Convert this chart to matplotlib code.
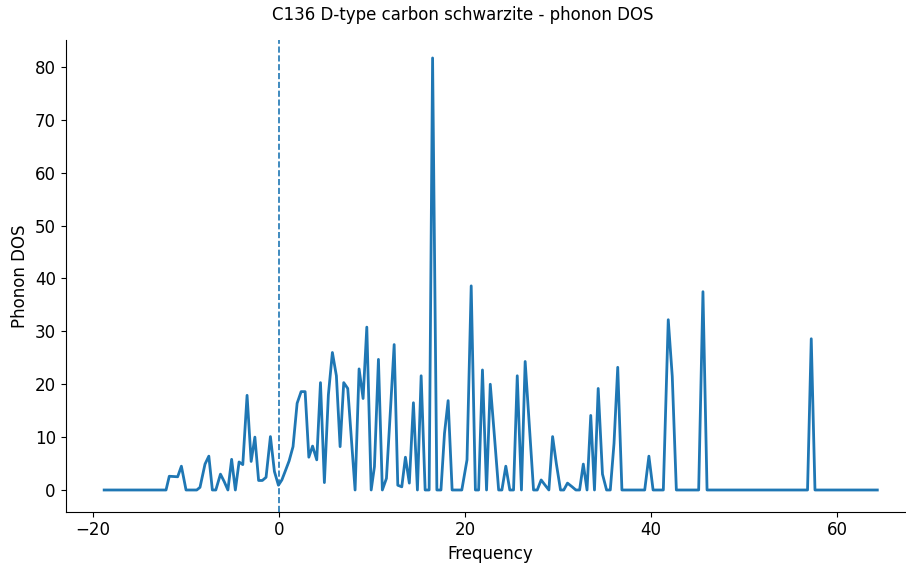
import matplotlib
matplotlib.use("Agg")
import matplotlib.pyplot as plt

# phonon DOS vertices (frequency, dos)
freq = [-18.8, -12.15, -11.8, -10.9, -10.5, -10.0, -8.85, -8.5, -7.96, -7.55,
        -7.17, -6.8, -6.3, -5.9, -5.5, -5.1, -4.7, -4.3, -3.9, -3.44,
        -3.0, -2.6, -2.2, -1.8, -1.4, -0.93, -0.5, -0.07, 0.3, 0.65,
        1.08, 1.5, 1.94, 2.37, 2.8, 3.2, 3.6, 4.05, 4.45, 4.87,
        5.3, 5.73, 6.16, 6.56, 6.95, 7.38, 8.17, 8.6, 9.03, 9.43,
        9.9, 10.25, 10.68, 11.1, 11.54, 11.97, 12.37, 12.76, 13.19, 13.58,
        14.0, 14.44, 14.87, 15.27, 15.7, 16.13, 16.5, 16.96, 17.4, 17.78,
        18.17, 18.6, 19.64, 20.2, 20.65, 21.1, 21.45, 21.86, 22.3, 22.7,
        23.15, 23.6, 23.95, 24.37, 24.8, 25.2, 25.6, 26.05, 26.45, 27.35,
        27.75, 28.17, 28.6, 29.0, 29.4, 29.8, 30.25, 30.6, 31.0, 31.5,
        31.9, 32.3, 32.7, 33.1, 33.5, 33.9, 34.3, 34.76, 35.2, 35.6,
        36.0, 36.4, 36.85, 39.3, 39.75, 40.2, 41.3, 41.83, 42.26, 42.7,
        45.1, 45.56, 46.0, 56.8, 57.2, 57.6, 64.3]
dos = [0, 0, 2.6, 2.5, 4.5, 0, 0, 0.5, 4.9, 6.4,
       0, 0, 3.0, 1.6, 0, 5.8, 0, 5.3, 4.8, 17.9,
       5.4, 10.0, 1.8, 1.8, 2.4, 10.1, 3.5, 0.9, 1.9, 3.5,
       5.5, 8.2, 16.4, 18.6, 18.6, 6.2, 8.3, 5.7, 20.3, 1.4,
       18.0, 26.0, 21.6, 8.2, 20.3, 19.2, 0, 22.9, 17.3, 30.8,
       0, 4.4, 24.7, 0, 2.2, 15.1, 27.5, 0.9, 0.6, 6.2,
       1.3, 16.5, 0, 21.6, 0, 0, 81.7, 0, 0, 10.7,
       16.9, 0, 0, 5.7, 38.6, 0, 0, 22.7, 0, 20.0,
       10.1, 0, 0, 4.5, 0, 0, 21.6, 0, 24.3, 0,
       0, 1.9, 0.9, 0, 10.1, 5.0, 0, 0, 1.3, 0.6,
       0, 0, 4.9, 0, 14.1, 0, 19.2, 3.0, 0, 0,
       8.8, 23.2, 0, 0, 6.4, 0, 0, 32.2, 21.5, 0,
       0, 37.5, 0, 0, 28.6, 0, 0]

title = "C136 D-type carbon schwarzite - phonon DOS"

fig, ax = plt.subplots(figsize=(9.06, 5.63), dpi=100)
# axes runs slightly past the right edge, as in the reference
fig.subplots_adjust(left=0.0723, right=1.011, top=0.929, bottom=0.0913)

ax.plot(freq, dos, color="#1f77b4", linewidth=2)
ax.axvline(0, color="#1f77b4", linestyle="--", linewidth=1.2)
ax.set_ylim(-4.085, 85.1)

fig.text(463 / 906, 1 - 15 / 563, title, fontsize=12, ha="center", va="center")
ax.set_xlabel("Frequency", fontsize=12)
ax.set_ylabel("Phonon DOS", fontsize=12)
ax.tick_params(labelsize=12)
ax.spines["top"].set_visible(False)
ax.spines["right"].set_visible(False)

fig.savefig("out.png", dpi=100)
